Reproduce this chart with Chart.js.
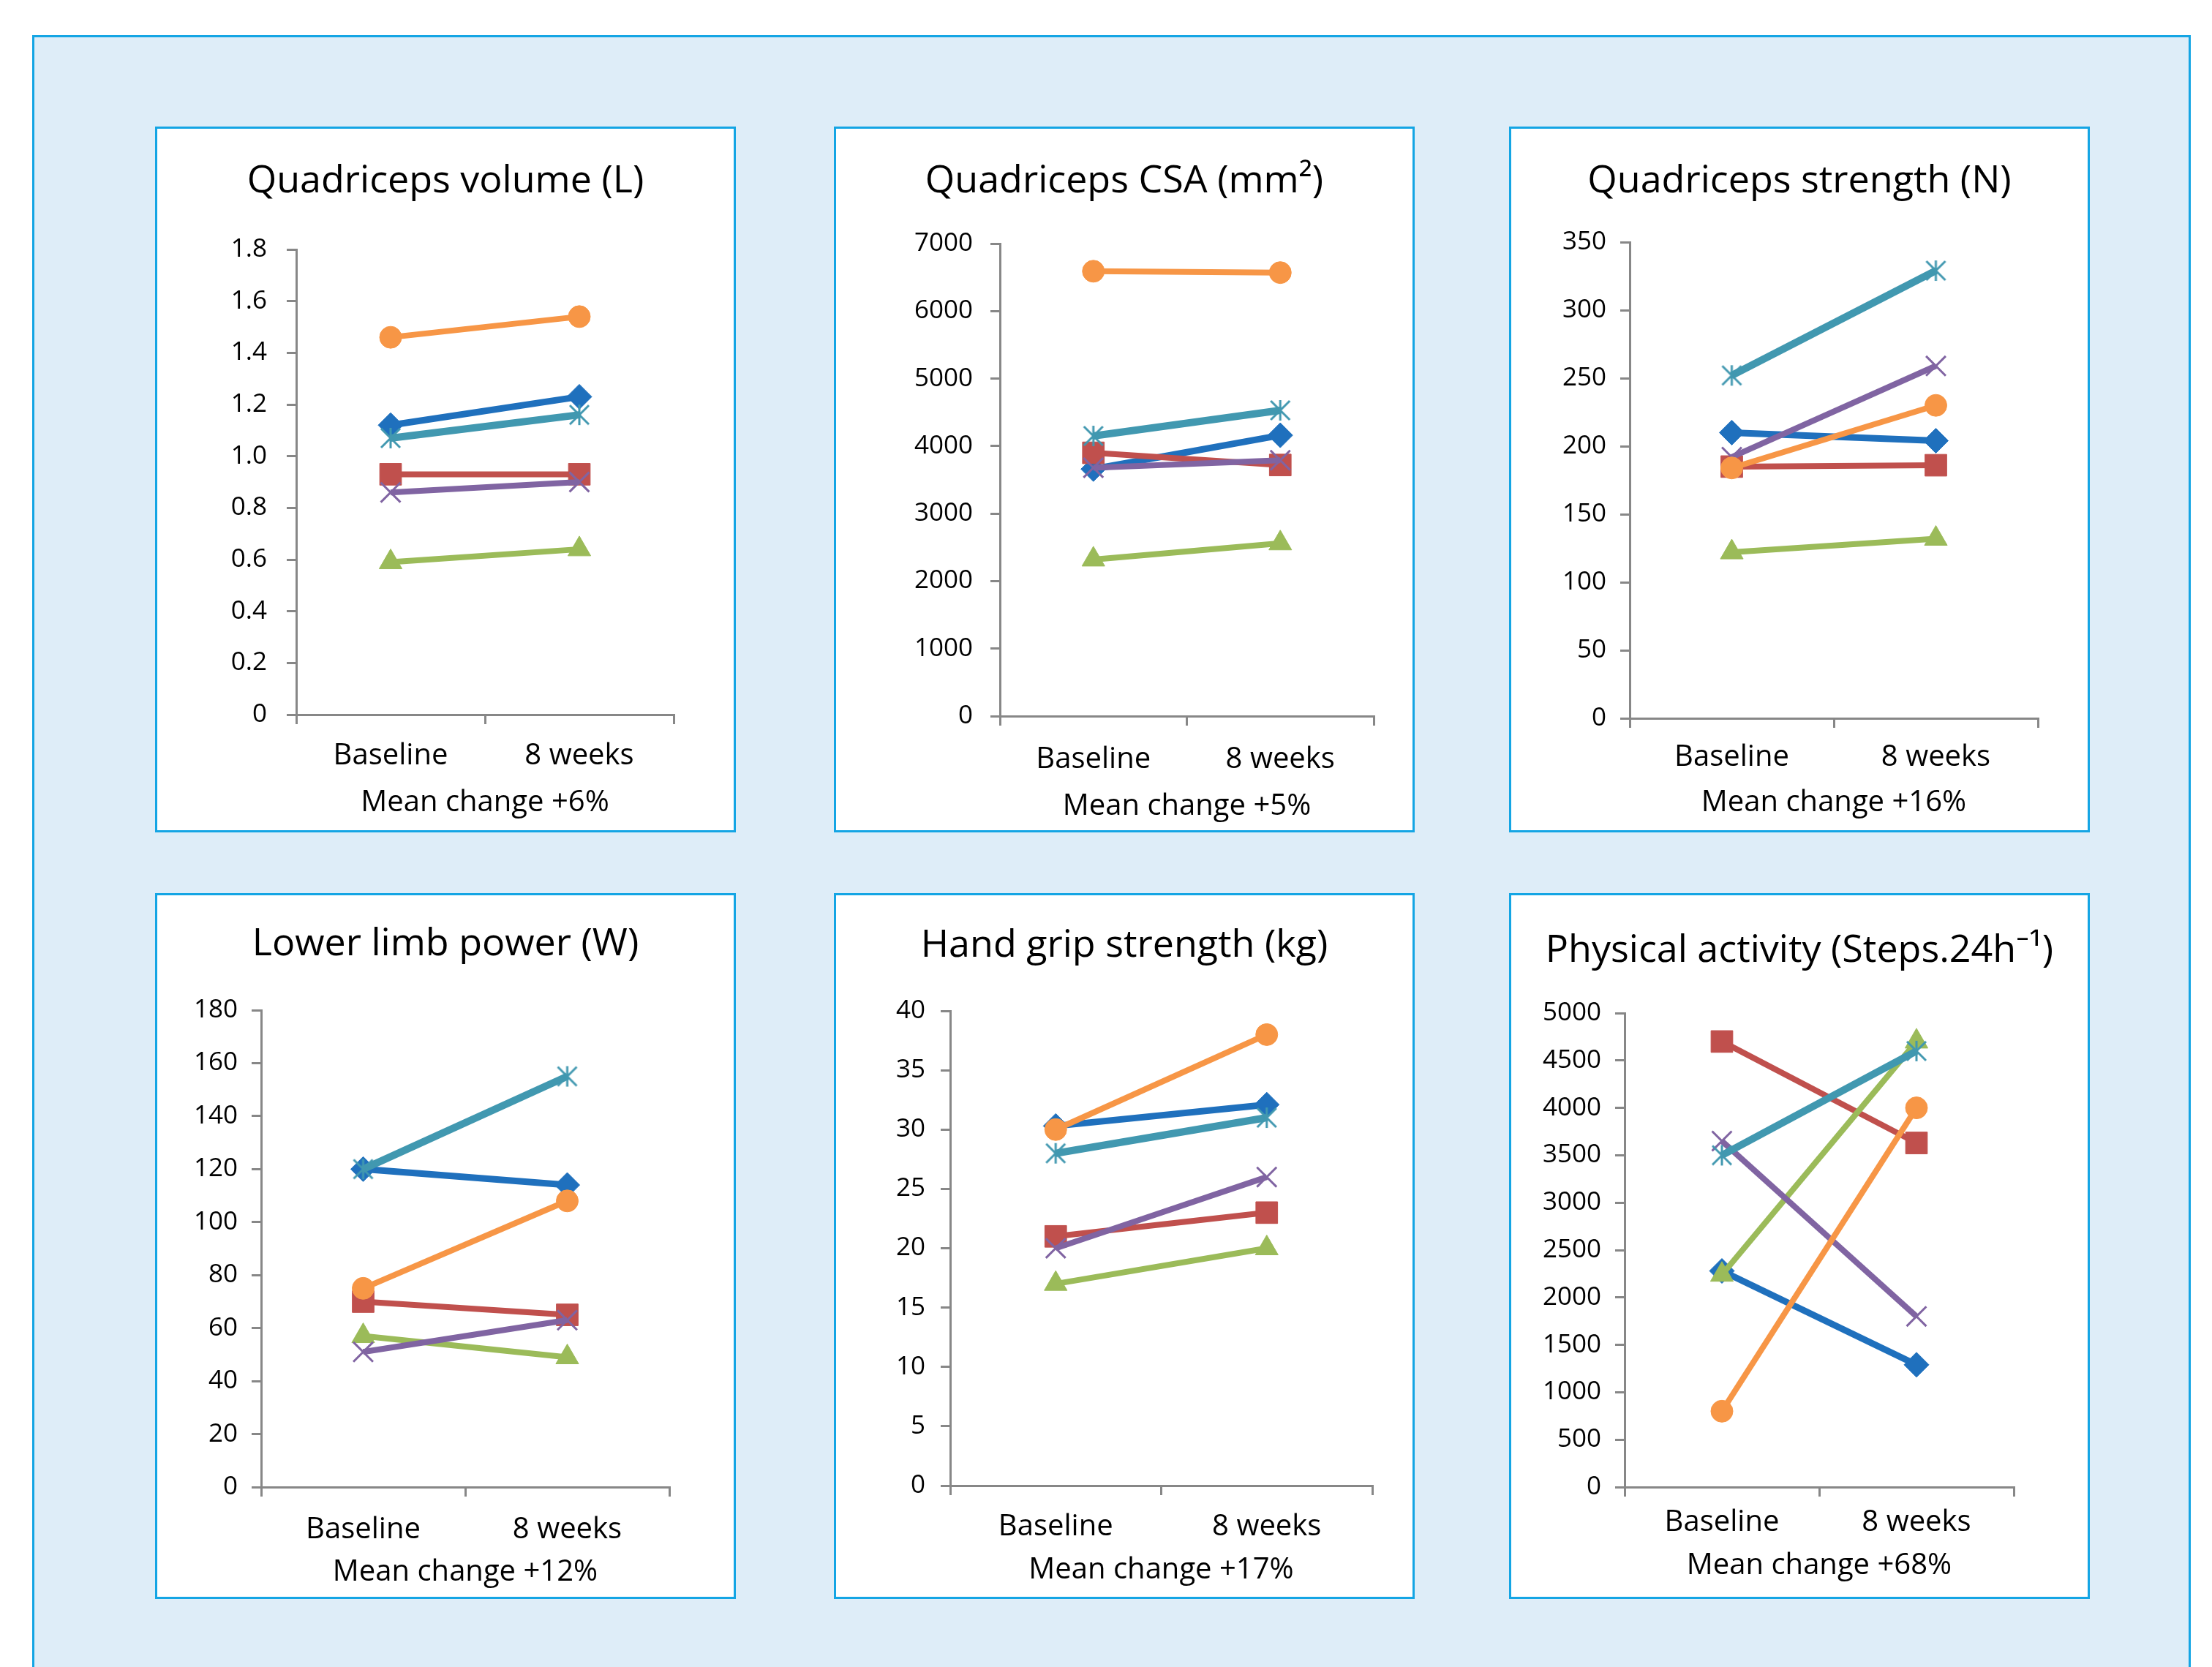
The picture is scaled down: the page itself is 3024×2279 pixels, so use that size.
<!DOCTYPE html>
<html>
<head>
<meta charset="utf-8">
<title>Muscle and function, baseline vs 8 weeks</title>
<script src="https://cdn.jsdelivr.net/npm/chart.js@4.4.1/dist/chart.umd.min.js"></script>
<style>
  html, body { margin: 0; padding: 0; background: #fff; }
  body { width: 3024px; height: 2279px; position: relative; overflow: hidden; font-family: "Open Sans", sans-serif; }
  #frame { position: absolute; left: 44px; top: 48px; width: 2951px; height: 2320px; background: #deedf8; border: 3px solid #14a5e4; box-sizing: border-box; }
  .panel { position: absolute; width: 794px; height: 965px; background: #fff; border: 3px solid #14a5e4; box-sizing: border-box; }
  .panel canvas { display: block; }
</style>
</head>
<body>
<div id="frame"></div>
<script>
// categories
const timepoints = ['Baseline', '8 weeks'];

// one value per participant, order: blue, red, green, purple, teal, orange
const volumeBaseline = [1.12, 0.93, 0.59, 0.86, 1.07, 1.46];
const volumeWeek8    = [1.23, 0.93, 0.64, 0.90, 1.16, 1.54];
const csaBaseline = [3660, 3900, 2320, 3680, 4150, 6590];
const csaWeek8    = [4160, 3720, 2560, 3790, 4530, 6570];
const strengthBaseline = [210, 185, 122, 192, 252, 184];
const strengthWeek8    = [204, 186, 132, 259, 329, 230];
const powerBaseline = [120, 70, 57, 51, 120, 75];
const powerWeek8    = [114, 65, 49, 63, 155, 108];
const gripBaseline = [30.3, 21, 17, 20, 28, 30];
const gripWeek8    = [32.1, 23, 20, 26, 31, 38];
const stepsBaseline = [2280, 4700, 2240, 3650, 3500, 800];
const stepsWeek8    = [1290, 3630, 4700, 1800, 4600, 4000];

// y tick labels
const volumeTicks = ['0', '0.2', '0.4', '0.6', '0.8', '1.0', '1.2', '1.4', '1.6', '1.8'];
const csaTicks = ['0', '1000', '2000', '3000', '4000', '5000', '6000', '7000'];
const strengthTicks = ['0', '50', '100', '150', '200', '250', '300', '350'];
const powerTicks = ['0', '20', '40', '60', '80', '100', '120', '140', '160', '180'];
const gripTicks = ['0', '5', '10', '15', '20', '25', '30', '35', '40'];
const stepsTicks = ['0', '500', '1000', '1500', '2000', '2500', '3000', '3500', '4000', '4500', '5000'];

const titles = ['Quadriceps volume (L)', 'Quadriceps CSA (mm\u00b2)', 'Quadriceps strength (N)',
                'Lower limb power (W)', 'Hand grip strength (kg)', 'Physical activity (Steps.24h\u207b\u00b9)'];
const meanChange = ['Mean change +6%', 'Mean change +5%', 'Mean change +16%',
                    'Mean change +12%', 'Mean change +17%', 'Mean change +68%'];

const panels = [
  {base: volumeBaseline, wk8: volumeWeek8, ticks: volumeTicks},
  {base: csaBaseline, wk8: csaWeek8, ticks: csaTicks},
  {base: strengthBaseline, wk8: strengthWeek8, ticks: strengthTicks},
  {base: powerBaseline, wk8: powerWeek8, ticks: powerTicks},
  {base: gripBaseline, wk8: gripWeek8, ticks: gripTicks},
  {base: stepsBaseline, wk8: stepsWeek8, ticks: stepsTicks}
];

// layout (pixels, relative to each white box)
const panelPos = [[212, 173], [1140, 173], [2063, 173], [212, 1221], [1140, 1221], [2063, 1221]];
const PW = 794, PH = 965, BW = 3;
// plot left, top, right, bottom, title y, label y, note y, label gap
const boxes = [
  [193, 168, 709, 804, 75, 861, 925, 40],
  [227, 160, 738, 806, 75, 866, 930, 37],
  [165, 158, 723, 809, 75, 863, 925, 32],
  [145, 160, 703, 812, 70, 871, 929, 32],
  [159, 161, 736, 810, 72, 867, 926, 34],
  [158, 164, 690, 812, 79, 861, 920, 32]
];

const FONT = '"Open Sans", "Noto Sans", sans-serif';
const AXIS = '#878787';
const colors = ['#1f70bd', '#c0504d', '#9bbb59', '#8064a2', '#4198b0', '#f79646'];
const widths = [9, 8, 8, 8, 10, 8];

// excel style asterisk for the teal series
function asterisk(color) {
  const c = document.createElement('canvas');
  c.width = 32; c.height = 32;
  const g = c.getContext('2d');
  g.strokeStyle = color; g.lineWidth = 3;
  g.beginPath();
  g.moveTo(16, 2); g.lineTo(16, 30);
  g.moveTo(3, 3); g.lineTo(29, 29);
  g.moveTo(29, 3); g.lineTo(3, 29);
  g.stroke();
  return c;
}
const markers = ['rectRot', 'rect', 'triangle', 'crossRot', asterisk(colors[4]), 'circle'];
const radii = [17, 21, 18, 19, 16, 15];

Chart.defaults.font.family = FONT;
Chart.defaults.color = '#000';

panels.forEach(function (p, k) {
  const div = document.createElement('div');
  div.className = 'panel';
  div.style.left = panelPos[k][0] + 'px';
  div.style.top = panelPos[k][1] + 'px';
  const cv = document.createElement('canvas');
  const cw = PW - 2 * BW, ch = PH - 2 * BW;
  cv.width = cw; cv.height = ch;
  div.appendChild(cv);
  document.body.appendChild(div);

  const b = boxes[k];
  const L = b[0] - BW, T = b[1] - BW, R = b[2] - BW, B = b[3] - BW;
  const tY = b[4] - BW, lY = b[5] - BW, nY = b[6] - BW, gap = b[7];
  const titleLH = 52 * 1.2, labelLH = 40 * 1.2;
  const ymax = parseFloat(p.ticks[p.ticks.length - 1]);
  const ystep = parseFloat(p.ticks[1]);

  new Chart(cv, {
    type: 'line',
    data: {
      labels: timepoints,
      datasets: colors.map(function (c, i) {
        return {
          data: [p.base[i], p.wk8[i]],
          borderColor: c,
          backgroundColor: c,
          borderWidth: widths[i],
          tension: 0,
          pointStyle: markers[i],
          pointRadius: radii[i],
          pointBorderWidth: i === 3 ? 3 : 1,
          pointBackgroundColor: c,
          pointBorderColor: c,
          order: colors.length - 1 - i
        };
      })
    },
    options: {
      responsive: false,
      animation: false,
      devicePixelRatio: 1,
      layout: {padding: 0},
      plugins: {
        legend: {display: false},
        tooltip: {enabled: false},
        title: {
          display: true,
          text: titles[k],
          color: '#000',
          font: {family: FONT, size: 52, weight: 'normal'},
          padding: {top: tY - titleLH / 2, bottom: T - (tY + titleLH / 2)}
        }
      },
      scales: {
        x: {
          offset: true,
          grid: {offset: true, drawOnChartArea: false, drawTicks: true, tickLength: 13, color: AXIS, lineWidth: 3},
          border: {display: true, color: AXIS, width: 3},
          ticks: {color: '#000', font: {size: 40}, padding: lY - B - 13 - labelLH / 2, maxRotation: 0},
          title: {display: true, text: meanChange[k], color: '#000', font: {size: 40},
                  padding: {top: 0, bottom: ch - nY - labelLH / 2}},
          afterFit: function (s) { s.height = ch - B; }
        },
        y: {
          min: 0,
          max: ymax,
          grid: {drawOnChartArea: false, drawTicks: true, tickLength: 13, color: AXIS, lineWidth: 3},
          border: {display: true, color: AXIS, width: 3},
          ticks: {
            stepSize: ystep,
            color: '#000',
            font: {size: 35},
            padding: gap - 13,
            callback: function (v, i) { return p.ticks[i]; }
          },
          afterFit: function (s) { s.width = L; }
        },
        // empty right margin so the title stays centred on the box
        margin: {
          type: 'linear',
          position: 'right',
          grid: {display: false},
          border: {display: false},
          ticks: {display: false},
          afterFit: function (s) { s.width = cw - R; }
        }
      }
    }
  });
});
</script>
</body>
</html>
